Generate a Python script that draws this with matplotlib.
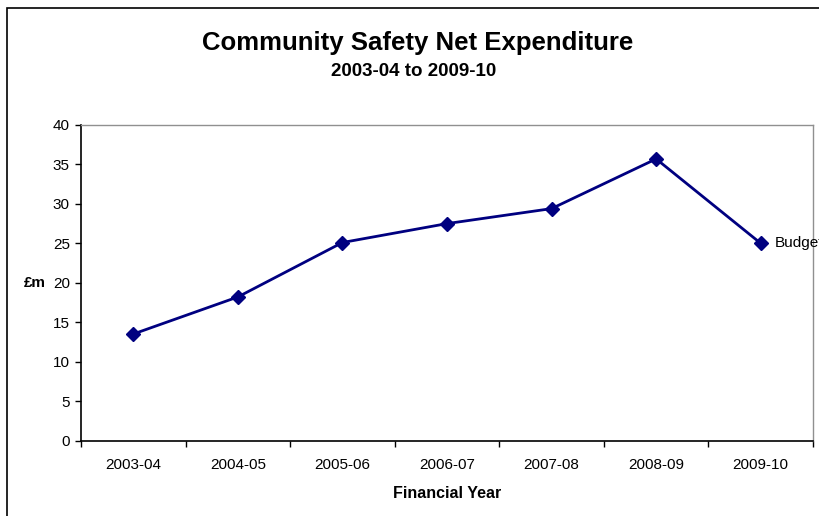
import matplotlib.pyplot as plt
from matplotlib.patches import Rectangle

plt.rcParams['font.family'] = ['Liberation Sans', 'DejaVu Sans']

# Net expenditure by financial year (£m)
years = ['2003-04', '2004-05', '2005-06', '2006-07', '2007-08', '2008-09', '2009-10']
spend = [13.5, 18.2, 25.1, 27.5, 29.4, 35.7, 25.0]
last_label = 'Budget'

W, H = 819, 516
fig = plt.figure(figsize=(W / 100, H / 100), dpi=100)

# outer chart frame (runs off the right and bottom edges)
fig.patches.append(Rectangle((7 / W, -0.1), 1.2, 1.1 - 8 / H, transform=fig.transFigure,
                             fill=False, edgecolor='black', linewidth=1.2))

left, right, top, bottom = 81, 813, 125, 440.5
ax = fig.add_axes([left / W, 1 - bottom / H, (right - left) / W, (bottom - top) / H])

x = list(range(len(years)))
ax.plot(x, spend, color='#000080', linewidth=2, marker='D', markersize=7,
        markeredgecolor='#000080', markerfacecolor='#000080', clip_on=False)
ax.annotate(last_label, (x[-1], spend[-1]), xytext=(10, 0), textcoords='offset points',
            va='center', ha='left', fontsize=11, annotation_clip=False)

ax.set_xlim(-0.5, len(years) - 0.5)
ax.set_ylim(0, 40)
ax.set_yticks(range(0, 41, 5))
ax.set_xticks(x)
ax.set_xticklabels(years)
ax.set_xticks([i - 0.5 for i in range(len(years) + 1)], minor=True)
ax.tick_params(axis='x', which='major', length=0, pad=12.5, labelsize=11)
ax.tick_params(axis='x', which='minor', length=4, width=1, direction='out')
ax.tick_params(axis='y', length=4, width=1, direction='out', labelsize=11, pad=4)

for side in ['left', 'bottom']:
    ax.spines[side].set_color('black')
    ax.spines[side].set_linewidth(1.2)
for side in ['top', 'right']:
    ax.spines[side].set_color('#909090')
    ax.spines[side].set_linewidth(1)

ax.set_xlabel('Financial Year', fontsize=11.5, fontweight='bold', labelpad=10)
ax.set_ylabel('£m', fontsize=11, fontweight='bold', rotation=0, labelpad=13, va='center')

fig.text(418 / W, 1 - 43 / H, 'Community Safety Net Expenditure', ha='center', va='center',
         fontsize=18.5, fontweight='bold')
fig.text(414 / W, 1 - 72 / H, '2003-04 to 2009-10', ha='center', va='center',
         fontsize=13.5, fontweight='bold')

fig.savefig('out.png', dpi=100)
